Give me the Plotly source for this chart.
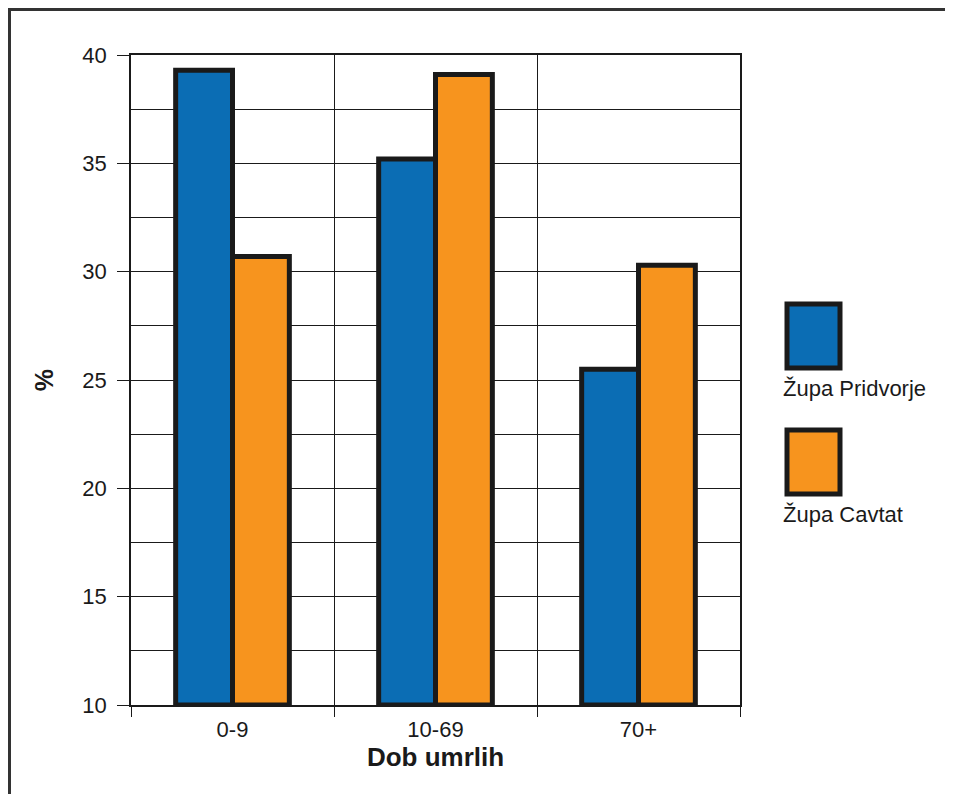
import plotly.graph_objects as go

categories = ["0-9", "10-69", "70+"]
series_names = ["Župa Pridvorje", "Župa Cavtat"]
pridvorje = [39.3, 35.2, 25.5]
cavtat = [30.7, 39.1, 30.3]
colors = ["#0B6DB4", "#F7941E"]
y_ticks = [10, 15, 20, 25, 30, 35, 40]
y_base = 10

FONT = "Liberation Sans, Arial, Helvetica, sans-serif"
INK = "#1a1a1a"

# page body has an 8px margin in the browser
OFF = 8
W, H = 953 - OFF, 794 - OFF
L, R, T, B = 131 - OFF, 740 - OFF, 55 - OFF, 705 - OFF

def px(x):
    return (x - OFF - L) / (R - L)
def py(y):
    return (B - (y - OFF)) / (B - T)

fig = go.Figure()
for name, vals, col in zip(series_names, [pridvorje, cavtat], colors):
    fig.add_trace(go.Bar(
        x=categories, y=[v - y_base for v in vals], base=y_base, name=name,
        marker=dict(color=col, line=dict(color=INK, width=5)),
        showlegend=False,
        hovertemplate="%{x}: %{customdata}<extra>" + name + "</extra>",
        customdata=vals,
    ))

fig.update_layout(
    width=W, height=H,
    margin=dict(l=L, r=W - R, t=T, b=H - B),
    paper_bgcolor="white", plot_bgcolor="white",
    barmode="group", bargap=0.44, bargroupgap=0,
    font=dict(family=FONT, color=INK, size=21),
    xaxis=dict(
        type="category", tickson="boundaries", showgrid=True,
        gridcolor=INK, gridwidth=1,
        ticks="outside", ticklen=10, tickcolor=INK,
        showline=True, linecolor=INK, linewidth=1.5, mirror=True,
        tickfont=dict(size=22, family=FONT, color=INK),
        ticklabelstandoff=4,
        title=dict(text="<b>Dob umrlih</b>", font=dict(size=26, family=FONT, color=INK), standoff=0),
    ),
    yaxis=dict(
        range=[10, 40], tickvals=y_ticks, ticktext=[str(v) for v in y_ticks],
        showgrid=True, gridcolor=INK, gridwidth=1,
        minor=dict(dtick=2.5, showgrid=True, gridcolor=INK, gridwidth=1),
        ticks="outside", ticklen=12, tickcolor=INK,
        showline=True, linecolor=INK, linewidth=1.5, mirror=True,
        tickfont=dict(size=22, family=FONT, color=INK),
        ticklabelstandoff=6,
        title=dict(text="<b>%</b>", font=dict(size=25, family=FONT, color=INK), standoff=22),
        zeroline=False,
    ),
)

shapes = []
# page frame
shapes.append(dict(type="rect", xref="paper", yref="paper",
                   x0=px(9.5), x1=px(948), y0=py(805), y1=py(9.5),
                   line=dict(color="#333", width=3), fillcolor="rgba(0,0,0,0)", layer="below"))
# legend boxes
legend_pos = [(787, 304, 368, 403), (787, 430, 494, 529)]
annotations = []
for (x0, y0, y1, ty), col, name in zip(legend_pos, colors, series_names):
    shapes.append(dict(type="rect", xref="paper", yref="paper",
                       x0=px(x0), x1=px(840), y0=py(y1), y1=py(y0),
                       line=dict(color=INK, width=5), fillcolor=col))
    annotations.append(dict(xref="paper", yref="paper", x=px(781), y=py(ty),
                            xanchor="left", yanchor="bottom", showarrow=False,
                            text=name, font=dict(size=22, family=FONT, color=INK)))
fig.update_layout(shapes=shapes, annotations=annotations)

fig.write_html("out.html")
